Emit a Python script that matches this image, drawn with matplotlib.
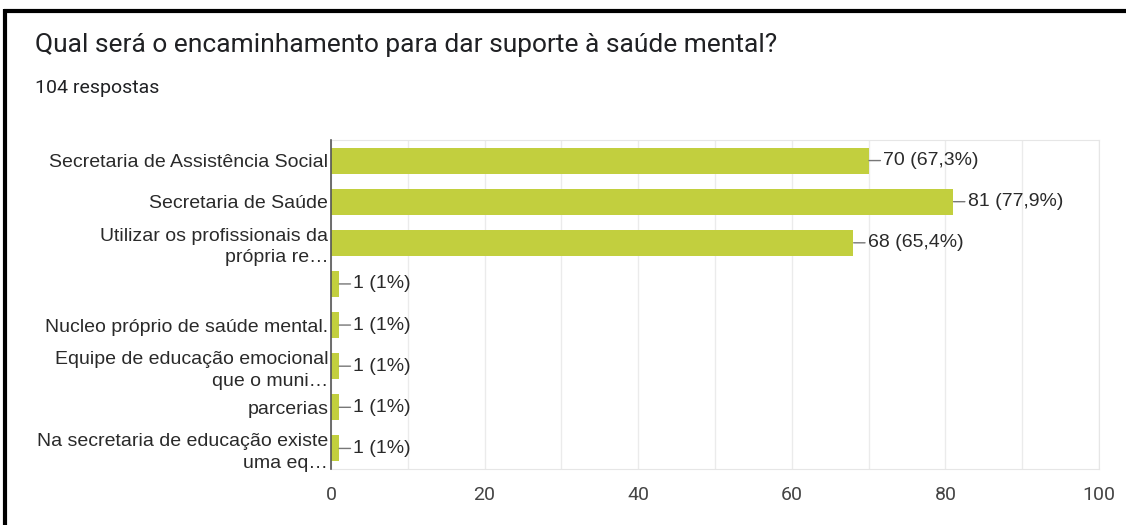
import matplotlib
matplotlib.use("Agg")
import matplotlib.pyplot as plt
from matplotlib.lines import Line2D

# Respostas ao formulário
categorias = [
    "Secretaria de Assistência Social",
    "Secretaria de Saúde",
    "Utilizar os profissionais da\nprópria re…",
    "",
    "Nucleo próprio de saúde mental.",
    "Equipe de educação emocional\nque o muni…",
    "parcerias",
    "Na secretaria de educação existe\numa eq…",
]
contagens = [70, 81, 68, 1, 1, 1, 1, 1]
percentuais = ["67,3%", "77,9%", "65,4%", "1%", "1%", "1%", "1%", "1%"]
total_respostas = 104
titulo = "Qual será o encaminhamento para dar suporte à saúde mental?"
ticks_x = [0, 20, 40, 60, 80, 100]

BAR = "#c2cf3e"
TXT = "#2a2a2a"

fig = plt.figure(figsize=(11.26, 5.25), dpi=100)
fig.patch.set_facecolor("white")

# moldura (superior e esquerda)
fig.add_artist(Line2D([3.5 / 1126, 1.0], [1 - 10.5 / 525] * 2, color="black", lw=3,
                      transform=fig.transFigure, solid_capstyle="butt"))
fig.add_artist(Line2D([4.5 / 1126] * 2, [0, 1 - 9 / 525], color="black", lw=3,
                      transform=fig.transFigure, solid_capstyle="butt"))

fig.text(35 / 1126, 1 - 45 / 525, titulo, fontsize=19, family="Roboto",
         color="#202124", va="center", ha="left")
fig.text(35 / 1126, 1 - 88 / 525, f"{total_respostas} respostas", fontsize=14,
         family="Roboto", color="#202124", va="center", ha="left")

ax = fig.add_axes([331 / 1126, 1 - 469 / 525, (1099 - 331) / 1126, (469 - 140) / 525])
y = list(range(len(categorias)))
ax.barh(y, contagens, height=0.63, color=BAR, zorder=2)
ax.set_ylim(len(categorias) - 0.5, -0.5)
ax.set_xlim(0, 100)

ax.set_xticks(ticks_x)
ax.set_xticks(range(0, 101, 10), minor=True)
ax.grid(axis="x", which="both", color="#ebebeb", lw=1, zorder=0)
ax.tick_params(axis="both", which="both", length=0)
ax.tick_params(axis="x", pad=12, labelsize=14, labelcolor="#444444")
ax.set_yticks(y)
ax.set_yticklabels(categorias, fontsize=14, color=TXT, family="Liberation Sans",
                   linespacing=1.35)
ax.tick_params(axis="y", pad=2)
for lab in ax.get_xticklabels():
    lab.set_family("Roboto")

for s in ["top", "right", "bottom"]:
    ax.spines[s].set_color("#e6e6e6")
ax.spines["left"].set_color("#555555")
ax.spines["left"].set_linewidth(1.2)
ax.spines["left"].set_zorder(3)

for yi, c, p in zip(y, contagens, percentuais):
    ax.annotate(f"{c} ({p})", xy=(c, yi), xytext=(10.5, 0), textcoords="offset points",
                va="center", ha="left", fontsize=14, color=TXT, family="Liberation Sans",
                arrowprops=dict(arrowstyle="-", color="#777777", lw=1,
                                shrinkA=0, shrinkB=0.3))

fig.savefig("out.png", dpi=100)
